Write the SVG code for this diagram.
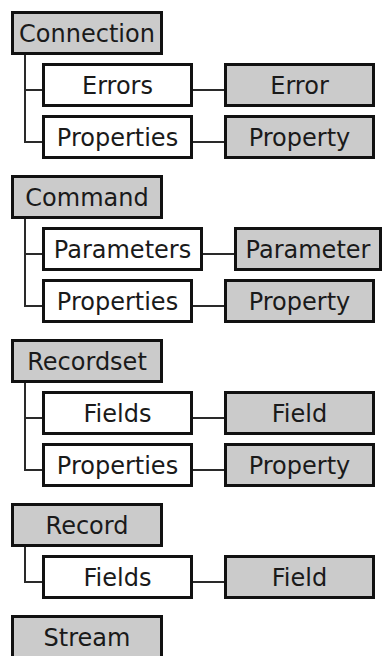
<svg xmlns="http://www.w3.org/2000/svg" width="383" height="656" viewBox="0 0 383 656">
<style>
.box{stroke:#111;stroke-width:3}
.obj{fill:#cbcbcb}
.col{fill:#ffffff}
.t{font-family:"DejaVu Sans",Verdana,sans-serif;font-size:24px;fill:#1a1a1a;text-anchor:middle}
.ln{stroke:#2a2a2a;stroke-width:2;fill:none}
</style>
<rect width="383" height="656" fill="#ffffff"/>
<g id="connectors">
<path class="ln" d="M25 55V142H43M25 90H43M193 90H225M193 142H225"/>
<path class="ln" d="M25 219V306H43M25 254H43M203 254H235M193 306H225"/>
<path class="ln" d="M25 383V470H43M25 418H43M193 418H225M193 470H225"/>
<path class="ln" d="M25 547V582H43M193 582H225"/>
</g>
<g id="connection"><rect class="box obj" x="12.5" y="12.5" width="149" height="41"/><text class="t" x="87" y="42">Connection</text></g>
<g id="errors"><rect class="box col" x="43.5" y="64.5" width="148" height="41"/><text class="t" x="117.5" y="94">Errors</text></g>
<g id="error"><rect class="box obj" x="225.5" y="64.5" width="148" height="41"/><text class="t" x="299.5" y="94">Error</text></g>
<g id="conn-properties"><rect class="box col" x="43.5" y="116.5" width="148" height="41"/><text class="t" x="117.5" y="146">Properties</text></g>
<g id="conn-property"><rect class="box obj" x="225.5" y="116.5" width="148" height="41"/><text class="t" x="299.5" y="146">Property</text></g>

<g id="command"><rect class="box obj" x="12.5" y="176.5" width="149" height="41"/><text class="t" x="87" y="206">Command</text></g>
<g id="parameters"><rect class="box col" x="43.5" y="228.5" width="158" height="41"/><text class="t" x="122.5" y="258">Parameters</text></g>
<g id="parameter"><rect class="box obj" x="235.5" y="228.5" width="145" height="41"/><text class="t" x="308" y="258">Parameter</text></g>
<g id="cmd-properties"><rect class="box col" x="43.5" y="280.5" width="148" height="41"/><text class="t" x="117.5" y="310">Properties</text></g>
<g id="cmd-property"><rect class="box obj" x="225.5" y="280.5" width="148" height="41"/><text class="t" x="299.5" y="310">Property</text></g>

<g id="recordset"><rect class="box obj" x="12.5" y="340.5" width="149" height="41"/><text class="t" x="87" y="370">Recordset</text></g>
<g id="rs-fields"><rect class="box col" x="43.5" y="392.5" width="148" height="41"/><text class="t" x="117.5" y="422">Fields</text></g>
<g id="rs-field"><rect class="box obj" x="225.5" y="392.5" width="148" height="41"/><text class="t" x="299.5" y="422">Field</text></g>
<g id="rs-properties"><rect class="box col" x="43.5" y="444.5" width="148" height="41"/><text class="t" x="117.5" y="474">Properties</text></g>
<g id="rs-property"><rect class="box obj" x="225.5" y="444.5" width="148" height="41"/><text class="t" x="299.5" y="474">Property</text></g>

<g id="record"><rect class="box obj" x="12.5" y="504.5" width="149" height="41"/><text class="t" x="87" y="534">Record</text></g>
<g id="rec-fields"><rect class="box col" x="43.5" y="556.5" width="148" height="41"/><text class="t" x="117.5" y="586">Fields</text></g>
<g id="rec-field"><rect class="box obj" x="225.5" y="556.5" width="148" height="41"/><text class="t" x="299.5" y="586">Field</text></g>

<g id="stream"><rect class="box obj" x="12.5" y="616.5" width="149" height="41"/><text class="t" x="87" y="646">Stream</text></g>
</svg>
